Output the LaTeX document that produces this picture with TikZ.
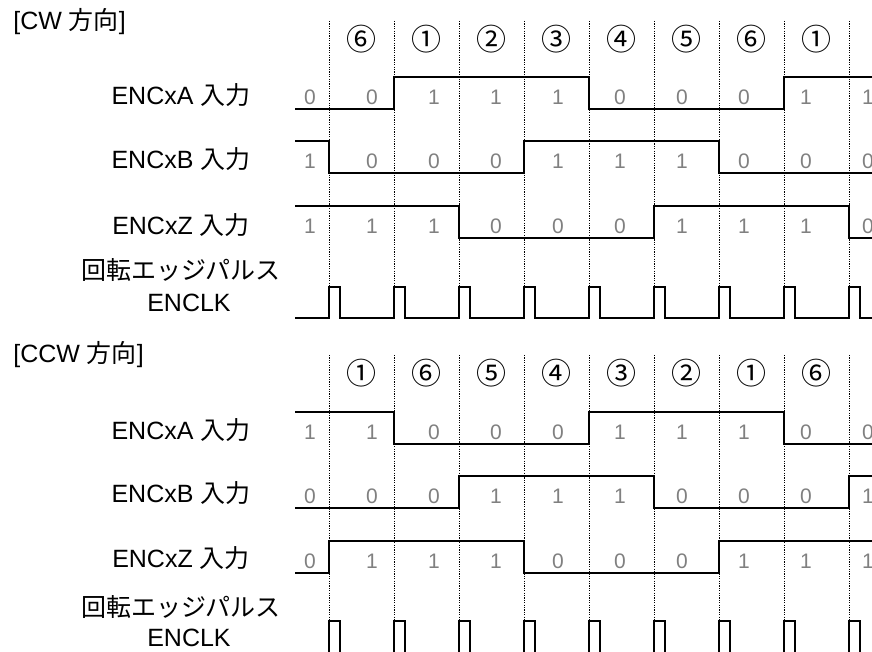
\documentclass[tikz,border=0pt]{standalone}
\usepackage{fontspec}
\setmainfont{Liberation Sans}
\newfontfamily\jp{Noto Sans CJK JP}
\tikzset{
  sig/.style={line width=1pt, line join=miter},
  tickline/.style={line width=0.4pt, dash pattern=on 0.6pt off 0.6pt},
  lab/.style={font=\fontsize{12.5}{15}\selectfont, inner sep=0pt},
  bit/.style={font=\fontsize{10.5}{12}\selectfont, text=black!50, inner sep=0pt},
  phase/.style={font=\jp\fontsize{15}{17}\selectfont, inner sep=0pt},
}
\begin{document}
\begin{tikzpicture}[x=0.5pt,y=-0.5pt]
  \useasboundingbox (0,0) rectangle (872,652);
  \clip (0,0) rectangle (872,652);
  % dotted separators
  \foreach \x in {329,394,...,849} {
    \draw[tickline] (\x,21) -- (\x,318);
    \draw[tickline] (\x,355) -- (\x,652);
  }
  % headings and signal names
  \node[lab, anchor=west] (cw) at (13,22) {[CW {\jp 方向}]};
  \node[lab, anchor=west] (ccw) at (13,355) {[CCW {\jp 方向}]};
  \foreach \n/\s/\y in {cwA/A/95, cwB/B/159, cwZ/Z/225, ccwA/A/430, ccwB/B/493, ccwZ/Z/558} {
    \node[lab] (\n) at (181,\y) {ENCx\s\ {\jp 入力}};
  }
  \node[lab] (cwE) at (181,270) {{\jp 回転エッジパルス}};
  \node[lab] (cwK) at (189,303) {ENCLK};
  \node[lab] (ccwE) at (181,607) {{\jp 回転エッジパルス}};
  \node[lab] (ccwK) at (189,638) {ENCLK};
  % phase numbers
  \foreach \c [count=\k from 0] in {⑥,①,②,③,④,⑤,⑥,①} {
    \node[phase] (cwph\k) at (361.5+65*\k,39) {\c};
  }
  \foreach \c [count=\k from 0] in {①,⑥,⑤,④,③,②,①,⑥} {
    \node[phase] (ccwph\k) at (361.5+65*\k,373) {\c};
  }
  % CW waveforms
  \draw[sig] (295,109) -- (394,109) -- (394,77) -- (589,77) -- (589,109) -- (784,109) -- (784,77) -- (872,77);
  \draw[sig] (295,141) -- (329,141) -- (329,173) -- (524,173) -- (524,141) -- (719,141) -- (719,173) -- (872,173);
  \draw[sig] (295,206) -- (459,206) -- (459,238) -- (654,238) -- (654,206) -- (849,206) -- (849,238) -- (872,238);
  \draw[sig] (295,318) \foreach \x in {329,394,...,849} { -- (\x,318) -- (\x,287) -- ++(11,0) -- ++(0,31) } -- (872,318);
  % CCW waveforms
  \draw[sig] (295,412) -- (394,412) -- (394,444) -- (589,444) -- (589,412) -- (784,412) -- (784,444) -- (872,444);
  \draw[sig] (295,508) -- (459,508) -- (459,476) -- (654,476) -- (654,508) -- (849,508) -- (849,476) -- (872,476);
  \draw[sig] (295,573) -- (329,573) -- (329,541) -- (524,541) -- (524,573) -- (719,573) -- (719,541) -- (872,541);
  \draw[sig] (295,653) \foreach \x in {329,394,...,849} { -- (\x,653) -- (\x,621) -- ++(11,0) -- ++(0,32) } -- (872,653);
  % logic levels
  \foreach \r/\y/\vals in {cwA/97/{0,0,1,1,1,0,0,0,1,1}, cwB/161/{1,0,0,0,1,1,1,0,0,0},
      cwZ/226/{1,1,1,0,0,0,1,1,1,0}, ccwA/432/{1,1,0,0,0,1,1,1,0,0},
      ccwB/496/{0,0,0,1,1,1,0,0,0,1}, ccwZ/561/{0,1,1,1,0,0,0,1,1,1}} {
    \foreach \v [count=\k from 0] in \vals {
      \node[bit] (\r-\k) at (310+62*\k,\y) {\v};
    }
  }
\end{tikzpicture}
\end{document}
